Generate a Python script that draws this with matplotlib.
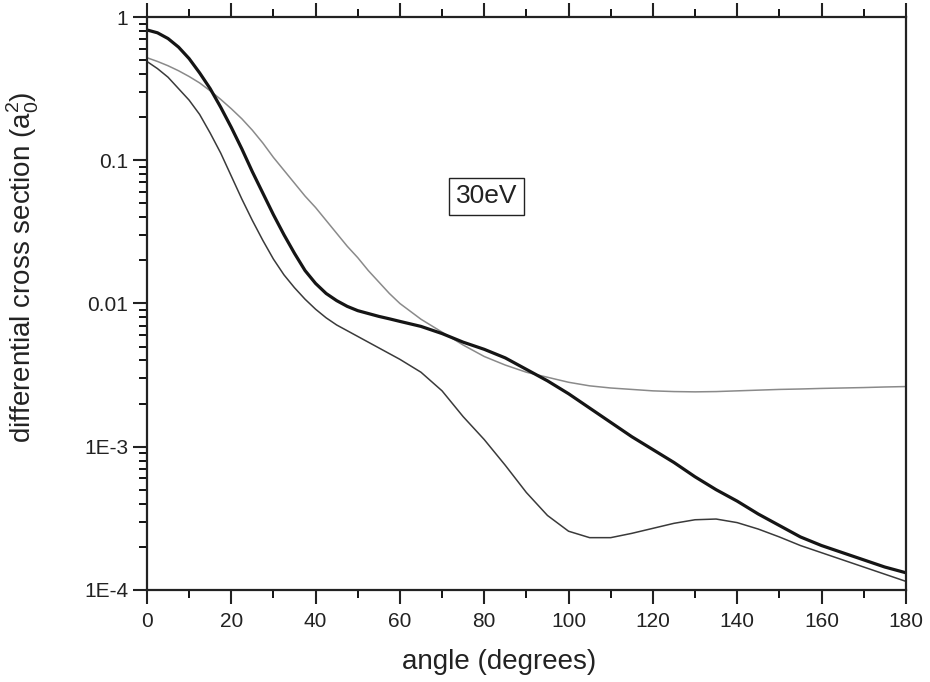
import numpy as np
import matplotlib.pyplot as plt
from matplotlib.ticker import FixedLocator, LogLocator, NullFormatter, FixedFormatter

plt.rcParams['font.family'] = ['Liberation Sans', 'DejaVu Sans']

# scattering angle (degrees): finer steps where the curves fall fast
angle = np.concatenate([np.arange(0, 60, 2.5), np.arange(60, 181, 5)])

# log10 of the cross sections
log_thick = [-0.09, -0.11, -0.15, -0.21, -0.29, -0.39, -0.50, -0.63, -0.77, -0.92,
             -1.08, -1.23, -1.38, -1.52, -1.65, -1.77, -1.86, -1.93, -1.98, -2.02,
             -2.05, -2.07, -2.09, -2.107,
             -2.125, -2.16, -2.21, -2.27, -2.32, -2.38, -2.46, -2.54, -2.63, -2.73,
             -2.83, -2.93, -3.02, -3.11, -3.21, -3.30, -3.38, -3.47, -3.55, -3.63,
             -3.69, -3.74, -3.79, -3.84, -3.88]

log_thin = [-0.31, -0.36, -0.42, -0.50, -0.58, -0.68, -0.81, -0.95, -1.11, -1.27,
            -1.42, -1.56, -1.69, -1.80, -1.89, -1.97, -2.04, -2.10, -2.15, -2.19,
            -2.23, -2.27, -2.31, -2.35,
            -2.39, -2.48, -2.61, -2.79, -2.95, -3.13, -3.32, -3.48, -3.59, -3.635,
            -3.635, -3.605, -3.57, -3.535, -3.51, -3.505, -3.53, -3.575, -3.63, -3.69,
            -3.74, -3.79, -3.84, -3.89, -3.94]

log_grey = [-0.284, -0.31, -0.34, -0.375, -0.415, -0.46, -0.515, -0.575, -0.64, -0.71,
            -0.79, -0.88, -0.98, -1.07, -1.16, -1.25, -1.33, -1.42, -1.51, -1.60,
            -1.68, -1.77, -1.85, -1.93,
            -2.00, -2.11, -2.20, -2.29, -2.37, -2.43, -2.48, -2.515, -2.55, -2.575,
            -2.59, -2.60, -2.61, -2.615, -2.617, -2.615, -2.61, -2.605, -2.60, -2.597,
            -2.593, -2.59, -2.587, -2.583, -2.58]

ytick_vals = [1e-4, 1e-3, 1e-2, 1e-1, 1]
ytick_labels = ['1E-4', '1E-3', '0.01', '0.1', '1']

fig = plt.figure(figsize=(9.3, 6.82), dpi=100)
ax = fig.add_axes([0.158, 0.135, 0.816, 0.84])

ax.plot(angle, 10 ** np.array(log_grey), color='#8a8a8a', lw=1.1)
ax.plot(angle, 10 ** np.array(log_thin), color='#3a3a3a', lw=1.1)
ax.plot(angle, 10 ** np.array(log_thick), color='#151515', lw=2.3)

ax.set_yscale('log')
ax.set_xlim(0, 180)
ax.set_ylim(1e-4, 1)

ax.xaxis.set_major_locator(FixedLocator(range(0, 181, 20)))
ax.xaxis.set_minor_locator(FixedLocator(range(10, 180, 20)))
ax.yaxis.set_major_locator(FixedLocator(ytick_vals))
ax.yaxis.set_major_formatter(FixedFormatter(ytick_labels))
ax.yaxis.set_minor_locator(LogLocator(base=10, subs=np.arange(2, 10)))
ax.yaxis.set_minor_formatter(NullFormatter())

ax.tick_params(axis='both', which='major', direction='out', length=10, width=1.5,
               labelsize=15, colors='#222222', top=True, right=False, labeltop=False)
ax.tick_params(axis='x', which='major', pad=6)
ax.tick_params(axis='both', which='minor', direction='out', length=6, width=1.3,
               top=True, right=False)
for s in ax.spines.values():
    s.set_linewidth(1.6)
    s.set_color('#222222')

ax.set_xlabel('angle (degrees)', fontsize=20, color='#222222')
ax.set_ylabel(r'differential cross section (a$_\mathregular{0}^\mathregular{2}$)',
              fontsize=20, color='#222222')
ax.xaxis.set_label_coords(0.464, -0.103)
ax.yaxis.set_label_coords(-0.14, 0.564)

ax.text(80.6, 0.056, '30eV', fontsize=19, ha='center', va='center', color='#222222',
        bbox=dict(boxstyle='square,pad=0.25', fc='white', ec='#222222', lw=1.0))

fig.savefig('out.png', dpi=100)
